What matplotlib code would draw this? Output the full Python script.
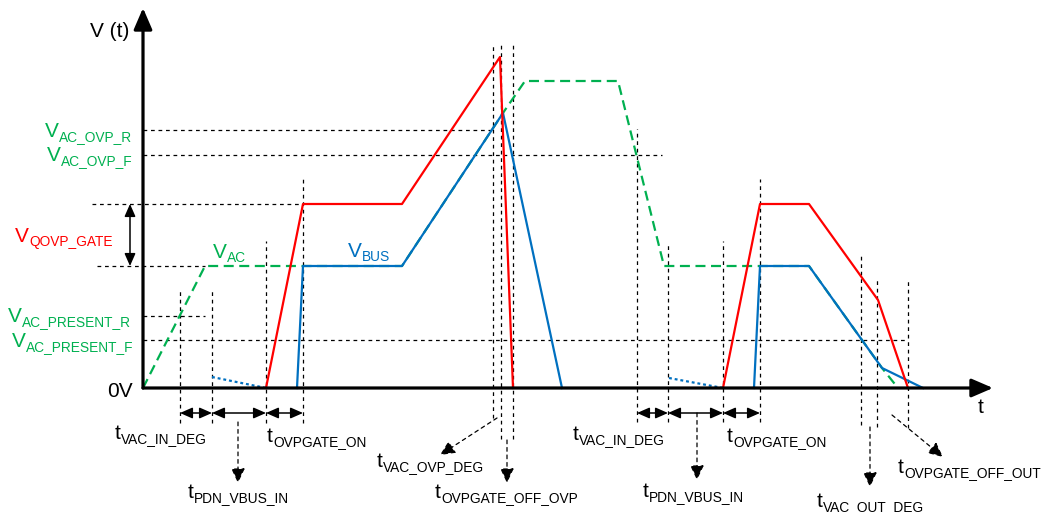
import matplotlib
matplotlib.use('Agg')
import matplotlib.pyplot as plt

# OVP timing diagram, drawn in "time / voltage" units with 0V at the origin

plt.rcParams['font.family'] = ['Liberation Sans', 'DejaVu Sans']

RED = '#FF0000'
BLUE = '#0070C0'
GREEN = '#00B050'

# threshold levels
V_OVP_R = 258
V_OVP_F = 233
V_QOVP = 184
V_AC = 122
V_PRES_R = 72
V_PRES_F = 48

# waveforms (t, v)
red_t1 = [123, 160, 259, 357, 370]
red_v1 = [0, 184, 184, 331, 0]
red_t2 = [580, 617, 666, 735, 765]
red_v2 = [0, 184, 184, 88, 0]

bus_t1 = [154, 160, 259, 360, 419]
bus_v1 = [0, 122, 122, 275, 0]
bus_t2 = [611, 617, 666, 739, 780]
bus_v2 = [0, 122, 122, 20, 0]
bus_dot1_t = [69, 123]
bus_dot1_v = [11, 0]
bus_dot2_t = [526, 580]
bus_dot2_v = [10, 0]

vac_t = [0, 62, 160, 259, 362, 382, 475, 521, 617, 666, 739, 755]
vac_v = [0, 122, 122, 122, 278, 307, 307, 122, 122, 122, 20, 0]

# horizontal reference lines: (level, t_start, t_end)
hlines = [(V_OVP_R, 0, 350), (V_OVP_F, 0, 519), (V_QOVP, -51, 160),
          (V_AC, -46, 62), (V_PRES_R, 0, 62), (V_PRES_F, 0, 765)]

# vertical event markers: (t, v_top, v_bottom)
vlines = [(37, 98, -35), (69, 98, -35), (123, 147, -35), (160, 209, -35),
          (350, 344, -30), (358, 344, -51), (370, 344, -51),
          (494, 259, -34), (525, 145, -34), (580, 147, -34), (617, 209, -34),
          (718, 135, -37), (734, 110, -39), (765, 107, -40)]

# interval arrows at v = -25
spans = [(37, 69), (69, 123), (123, 160), (494, 525), (525, 580), (580, 617)]

# pointer arrows: (start, end)
pointers = [((95, -34), (95, -95)), ((364, -52), (364, -95)),
            ((554, -25), (554, -92)), ((727, -39), (727, -99)),
            ((354, -30), (297, -67)), ((749, -27), (800, -69))]

labels = [
    (-98, 251, 'V', 'AC_OVP_R', GREEN),
    (-96, 227, 'V', 'AC_OVP_F', GREEN),
    (-128, 146, 'V', 'QOVP_GATE', RED),
    (70, 130, 'V', 'AC', GREEN),
    (205, 131, 'V', 'BUS', BLUE),
    (-135, 66, 'V', 'AC_PRESENT_R', GREEN),
    (-131, 41, 'V', 'AC_PRESENT_F', GREEN),
    (-28, -51, 't', 'VAC_IN_DEG', 'k'),
    (124, -54, 't', 'OVPGATE_ON', 'k'),
    (45, -110, 't', 'PDN_VBUS_IN', 'k'),
    (234, -79, 't', 'VAC_OVP_DEG', 'k'),
    (292, -110, 't', 'OVPGATE_OFF_OVP', 'k'),
    (430, -52, 't', 'VAC_IN_DEG', 'k'),
    (584, -54, 't', 'OVPGATE_ON', 'k'),
    (500, -109, 't', 'PDN_VBUS_IN', 'k'),
    (674, -119, 't', 'VAC_OUT_DEG', 'k'),
    (755, -85, 't', 'OVPGATE_OFF_OUT', 'k'),
]

fig = plt.figure(figsize=(10.45, 5.12), dpi=100)
ax = fig.add_axes([0, 0, 1, 1])
ax.set_xlim(-143, 902)
ax.set_ylim(-124, 388)
ax.axis('off')

dash = dict(color='k', lw=0.9, linestyle=(0, (3, 3)))
for lv, t0, t1 in hlines:
    ax.plot([t0, t1], [lv, lv], **dash, zorder=1)
for t, top, bot in vlines:
    ax.plot([t, t], [bot, top], **dash, zorder=1)

ax.plot(vac_t, vac_v, color=GREEN, lw=1.6, linestyle=(0, (4.5, 2.5)), zorder=2)
ax.plot(red_t1, red_v1, color=RED, lw=1.6, zorder=4)
ax.plot(red_t2, red_v2, color=RED, lw=1.6, zorder=4)
ax.plot(bus_t1, bus_v1, color=BLUE, lw=1.6, zorder=3)
ax.plot(bus_t2, bus_v2, color=BLUE, lw=1.6, zorder=3)
ax.plot(bus_dot1_t, bus_dot1_v, color=BLUE, lw=1.6, linestyle=(0, (1.3, 1.3)), zorder=3)
ax.plot(bus_dot2_t, bus_dot2_v, color=BLUE, lw=1.6, linestyle=(0, (1.3, 1.3)), zorder=3)

# axes with arrows
axis_arrow = dict(arrowstyle='-|>,head_length=0.65,head_width=0.28', color='k',
                  lw=2.3, mutation_scale=20, shrinkA=0, shrinkB=0)
ax.annotate('', xy=(850, 0), xytext=(0, 0), arrowprops=axis_arrow, zorder=5)
ax.annotate('', xy=(0, 380), xytext=(0, 0), arrowprops=axis_arrow, zorder=5)

span_arrow = dict(arrowstyle='<|-|>,head_length=0.5,head_width=0.22', color='k',
                  lw=1.1, mutation_scale=15, shrinkA=0, shrinkB=0)
for a, b in spans:
    ax.annotate('', xy=(b, -25), xytext=(a, -25), arrowprops=span_arrow)
ax.annotate('', xy=(-13, V_AC), xytext=(-13, V_QOVP), arrowprops=span_arrow)

ptr_arrow = dict(arrowstyle='-|>,head_length=0.6,head_width=0.28', color='k',
                 lw=0.9, mutation_scale=15, shrinkA=0, shrinkB=0,
                 linestyle=(0, (3, 3)))
for start, end in pointers:
    ax.annotate('', xy=end, xytext=start, arrowprops=ptr_arrow)

# main letter + subscript placed just after it
for t, v, m, s, c in labels:
    main = ax.text(t, v, m, color=c, fontsize=15, ha='left', va='baseline')
    ax.annotate(s, xy=(1, 0), xycoords=main, xytext=(0.3, 0.2),
                textcoords='offset points', color=c, fontsize=9.9,
                ha='left', va='baseline')

ax.text(-53, 351, 'V (t)', fontsize=15, ha='left', va='baseline')
ax.text(-10, -9, '0V', fontsize=15, ha='right', va='baseline')
ax.text(835, -25, 't', fontsize=15, ha='left', va='baseline')

fig.savefig('out.png', dpi=100)
